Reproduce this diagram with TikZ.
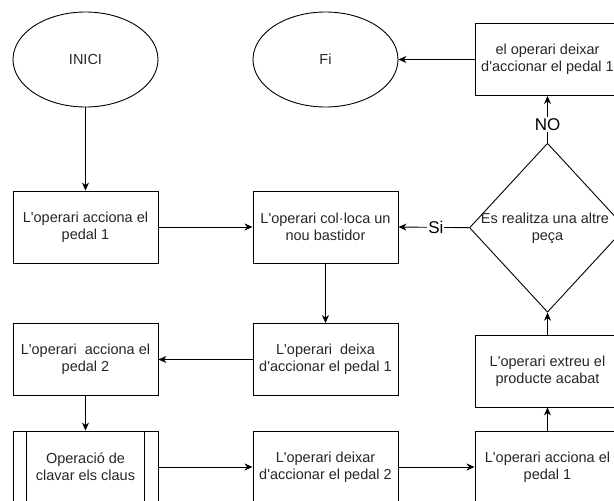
\documentclass[tikz,border=0pt]{standalone}
\usepackage{fontspec}
\setmainfont{Liberation Sans}[Ligatures=TeXOff]
\usetikzlibrary{shapes.geometric,arrows.meta}
\definecolor{txtgray}{HTML}{262626}
\newcommand{\boxfont}{\fontsize{14.5}{16.8}\selectfont}
\newcommand{\lblfont}{\fontsize{17}{20}\selectfont}
\begin{document}
\begin{tikzpicture}[x=1pt,y=-1pt, line width=0.9pt,
  stepbox/.style={draw, minimum width=145pt, minimum height=72pt, inner sep=0pt, align=center, font=\boxfont, text=txtgray},
  terminal/.style={draw, ellipse, minimum width=145pt, minimum height=95pt, inner sep=0pt, font=\boxfont, text=txtgray},
  decision/.style={draw, diamond, minimum width=156pt, minimum height=169pt, inner sep=0pt},
  plaintext/.style={align=center, font=\boxfont, text=txtgray, inner sep=0pt},
  arr/.style={-{Stealth[length=8pt,width=7pt,inset=2.5pt]}},
  lbl/.style={fill=white, font=\lblfont, inner sep=1pt}]
\useasboundingbox (0,0) rectangle (614,501);
\clip (0,0) rectangle (614,501);

\node[terminal] (inici) at (85.5,59.5) {INICI};
\node[terminal] (fi) at (325.5,59.5) {Fi};
\node[stepbox] (top) at (547.5,59.5) {el operari deixar\\d'accionar el pedal 1};

\node[stepbox] (b1) at (85.5,227) {L'operari acciona el\\pedal 1};
\node[stepbox] (b2) at (325.5,227) {L'operari col·loca un\\nou bastidor};
\node[decision] (dia) at (547.5,227.7) {};
\node[plaintext] (diat) at (545,228.5) {Es realitza una altre\\\hspace*{5pt}peça};

\node[stepbox] (b4) at (85.5,359.5) {L'operari\ \ acciona el\\pedal 2};
\node[stepbox] (b3) at (325.5,359.5) {L'operari\ \ deixa\\d'accionar el pedal 1};
\node[stepbox] (b5) at (547.5,371) {L'operari extreu el\\producte acabat};

\node[stepbox] (sub) at (85.5,467) {Operació de\\clavar els claus};
\draw ([xshift=14pt]sub.north west) -- ([xshift=14pt]sub.south west);
\draw ([xshift=-14pt]sub.north east) -- ([xshift=-14pt]sub.south east);
\node[stepbox] (b6) at (325.5,467) {L'operari deixar\\d'accionar el pedal 2};
\node[stepbox] (b7) at (547.5,467) {L'operari acciona el\\pedal 1};

\draw[arr] (inici.south) -- (b1.north);
\draw[arr] (b1.east) -- (b2.west);
\draw[arr] (b2.south) -- (b3.north);
\draw[arr] (b3.west) -- (b4.east);
\draw[arr] (b4.south) -- (sub.north);
\draw[arr] (sub.east) -- (b6.west);
\draw[arr] (b6.east) -- (b7.west);
\draw[arr] (b7.north) -- (b5.south);
\draw[arr] (b5.north) -- (dia.south);
\draw[arr] (dia.west) -- node[lbl, pos=0.47] (si) {Si} (b2.east);
\draw[arr] (dia.north) -- node[lbl, pos=0.39] (no) {NO} (top.south);
\draw[arr] (top.west) -- (fi.east);
\end{tikzpicture}
\end{document}
